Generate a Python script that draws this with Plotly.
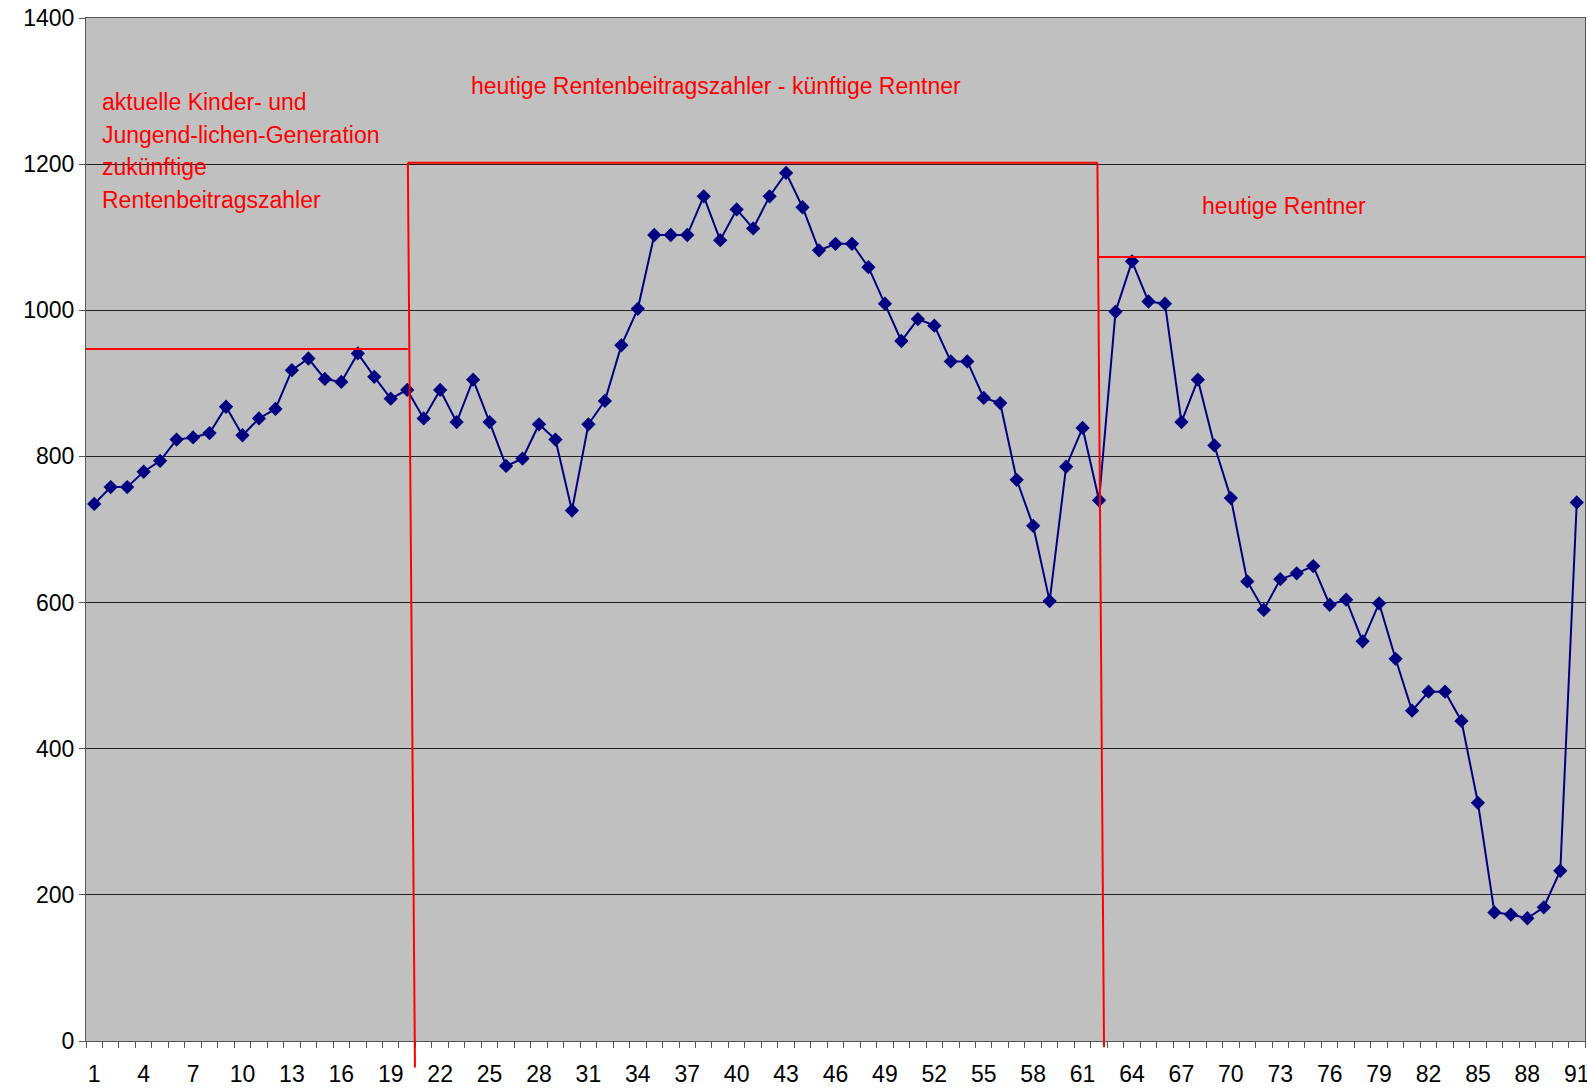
import plotly.graph_objects as go

ages = list(range(1, 92))
values = [735, 758, 758, 779, 794, 823, 826, 832, 868, 829,
          852, 865, 918, 934, 906, 902, 941, 909, 879, 891,
          852, 891, 847, 905, 847, 787, 797, 844, 823, 726,
          844, 876, 952, 1002, 1103, 1103, 1103, 1156, 1096, 1138,
          1112, 1156, 1188, 1141, 1082, 1091, 1091, 1059, 1009, 958,
          988, 979, 930, 930, 880, 873, 768, 705, 602, 786,
          839, 740, 998, 1067, 1012, 1009, 847, 905, 815, 743,
          629, 590, 632, 640, 650, 597, 604, 547, 599, 523,
          452, 478, 478, 438, 326, 176, 173, 168, 183, 233, 737]
tick_labels = list(range(1, 92, 3))

group_texts = [
    ["aktuelle Kinder- und", "Jungend-lichen-Generation", "zukünftige", "Rentenbeitragszahler"],
    ["heutige Rentenbeitragszahler - künftige Rentner"],
    ["heutige Rentner"],
]
group_levels = [947, 1202, 1073]

W, H = 1587, 1088
ML, MR, MT, MB = 86, 2, 18, 47
YMAX = 1400
FONT = "Arial, Liberation Sans, sans-serif"
RED = "#FF0000"
FS = 23

fig = go.Figure()
fig.add_trace(go.Scatter(
    x=ages, y=values, mode="lines+markers",
    line=dict(color="#000080", width=2),
    marker=dict(symbol="diamond", size=11, color="#000080"),
    showlegend=False, cliponaxis=False,
))

def py(v):
    return v / YMAX

shapes = []
lw = 2
shapes.append(dict(type="line", xref="x", yref="y", x0=0.5, x1=20.04, y0=group_levels[0], y1=group_levels[0],
                   line=dict(color=RED, width=lw)))
shapes.append(dict(type="line", xref="x", yref="paper", x0=20.04, x1=20.47, y0=py(group_levels[1]), y1=-0.026,
                   line=dict(color=RED, width=lw)))
shapes.append(dict(type="line", xref="x", yref="y", x0=20.04, x1=61.9, y0=group_levels[1], y1=group_levels[1],
                   line=dict(color=RED, width=lw)))
shapes.append(dict(type="line", xref="x", yref="paper", x0=61.9, x1=62.3, y0=py(group_levels[1]), y1=-0.006,
                   line=dict(color=RED, width=lw)))
shapes.append(dict(type="line", xref="x", yref="y", x0=61.9, x1=91.5, y0=group_levels[2], y1=group_levels[2],
                   line=dict(color=RED, width=lw)))

annotations = []
pw = W - ML - MR
ph = H - MT - MB
def ann(text, px, pyy):
    annotations.append(dict(text=text, xref="paper", yref="paper",
                            x=(px - ML) / pw, y=(H - MB - pyy) / ph,
                            xanchor="left", yanchor="middle", showarrow=False,
                            font=dict(family=FONT, size=FS, color=RED)))

for i, t in enumerate(group_texts[0]):
    ann(t, 100, 102 + i * 32.7)
ann(group_texts[1][0], 469, 86)
ann(group_texts[2][0], 1200, 206)

fig.update_layout(
    width=W, height=H,
    margin=dict(l=ML, r=MR, t=MT, b=MB, autoexpand=False),
    paper_bgcolor="white", plot_bgcolor="#C0C0C0",
    shapes=shapes, annotations=annotations,
    font=dict(family=FONT, size=FS, color="black"),
)
fig.update_xaxes(
    range=[0.5, 91.5], tickvals=tick_labels, ticktext=[str(t) for t in tick_labels],
    ticks="", showgrid=False, zeroline=False, automargin=False,
    ticklabeloverflow="allow",
    showline=True, linecolor="#555555", linewidth=1, mirror=True,
    minor=dict(tick0=0.5, dtick=1, ticks="outside", ticklen=6, tickcolor="#555555", showgrid=False),
    ticklabelstandoff=12,
    tickfont=dict(family=FONT, size=FS, color="black"),
)
fig.update_yaxes(
    range=[0, YMAX], tickvals=list(range(0, 1401, 200)),
    ticks="outside", ticklen=6, tickcolor="#555555", automargin=False,
    ticklabeloverflow="allow",
    showgrid=True, gridcolor="#222222", gridwidth=1, zeroline=False,
    showline=True, linecolor="#555555", linewidth=1, mirror=True,
    tickfont=dict(family=FONT, size=FS, color="black"),
)
fig.write_html("out.html", config={"displayModeBar": False},
               post_script="document.body.style.margin='0';document.body.style.overflow='hidden';")
